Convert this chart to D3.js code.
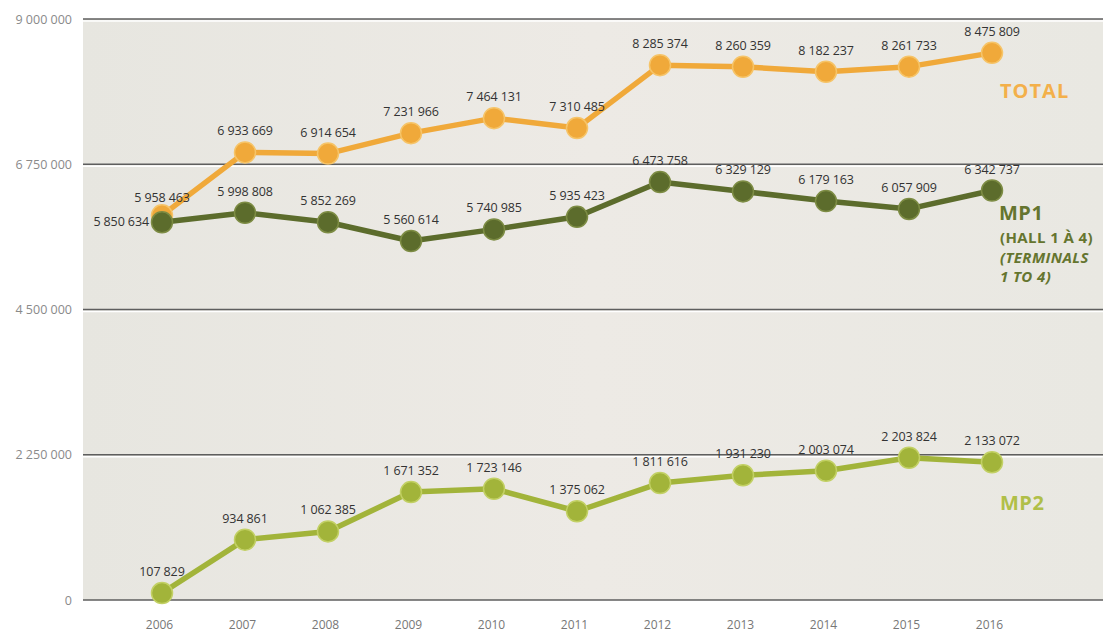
<!DOCTYPE html>
<html>
<head>
<meta charset="utf-8">
<script src="https://cdn.jsdelivr.net/npm/d3@7"></script>
<style>
  body { margin: 0; background: #ffffff; }
  svg { display: block; font-family: "Open Sans", "Noto Sans", sans-serif; }
</style>
</head>
<body>
<svg id="chart" width="1103" height="637"></svg>
<script>
const years = [2006, 2007, 2008, 2009, 2010, 2011, 2012, 2013, 2014, 2015, 2016];
const totalValues = [5958463, 6933669, 6914654, 7231966, 7464131, 7310485, 8285374, 8260359, 8182237, 8261733, 8475809];
const mp1Values = [5850634, 5998808, 5852269, 5560614, 5740985, 5935423, 6473758, 6329129, 6179163, 6057909, 6342737];
const mp2Values = [107829, 934861, 1062385, 1671352, 1723146, 1375062, 1811616, 1931230, 2003074, 2203824, 2133072];
const yTicks = [0, 2250000, 4500000, 6750000, 9000000];
const seriesNames = ["TOTAL", "MP1", "MP2"];
const mp1SubLabels = ["(HALL 1 À 4)", "(TERMINALS", "1 TO 4)"];

const fmt = v => d3.format(",")(v).replace(/,/g, " ");

const svg = d3.select("#chart");
const pLeft = 83, pRight = 1103, pTop = 19, pBottom = 600;

const x = d3.scaleLinear().domain([2006, 2016]).range([162, 992]);
const y = d3.scaleLinear().domain([0, 9000000]).range([pBottom, pTop]);

// plot background
const grad = svg.append("defs").append("linearGradient").attr("id", "bg").attr("x1", 0).attr("x2", 1).attr("y1", 0).attr("y2", 0);
grad.append("stop").attr("offset", "0%").attr("stop-color", "#e7e6e0");
grad.append("stop").attr("offset", "50%").attr("stop-color", "#edeae5");
grad.append("stop").attr("offset", "100%").attr("stop-color", "#e9e8e2");
svg.append("rect").attr("x", pLeft).attr("y", pTop).attr("width", pRight - pLeft).attr("height", pBottom - pTop).attr("fill", "url(#bg)");

// grid lines with white emboss
const grid = svg.append("g");
grid.selectAll("line.w").data(yTicks).join("line").attr("class", "w")
  .attr("x1", pLeft).attr("x2", pRight)
  .attr("y1", d => y(d) + 2).attr("y2", d => y(d) + 2)
  .attr("stroke", "#ffffff").attr("stroke-width", 1.5);
grid.selectAll("line.g").data(yTicks).join("line").attr("class", "g")
  .attr("x1", pLeft).attr("x2", pRight)
  .attr("y1", d => y(d)).attr("y2", d => y(d))
  .attr("stroke", "#5e5e5e").attr("stroke-width", 1.3);

// y axis labels
const yAxis = d3.axisLeft(y).tickValues(yTicks).tickSize(0).tickPadding(0).tickFormat(fmt);
const ya = svg.append("g").attr("transform", "translate(72,0)").call(yAxis);
ya.select(".domain").remove();
ya.selectAll("text").attr("font-size", 12.5).attr("fill", "#8a8a8a").attr("font-family", "\"Open Sans\", sans-serif").attr("letter-spacing", 0);

// x axis labels
const xAxis = d3.axisBottom(x).tickValues(years).tickSize(0).tickPadding(0).tickFormat(d3.format("d"));
const xa = svg.append("g").attr("transform", "translate(-3,620)").call(xAxis);
xa.select(".domain").remove();
xa.selectAll("text").attr("font-size", 12).attr("fill", "#777").attr("font-family", "\"Open Sans\", sans-serif").attr("letter-spacing", 0);

const line = d3.line().x((d, i) => x(years[i])).y(d => y(d));

const series = [
  { name: "TOTAL", values: totalValues, color: "#f0a93a", stroke: "#f6c468" },
  { name: "MP2", values: mp2Values, color: "#a2b43a", stroke: "#c2d064" },
  { name: "MP1", values: mp1Values, color: "#5c6c2c", stroke: "#7d8c44" }
];

series.forEach(s => {
  const g = svg.append("g");
  g.append("path").datum(s.values).attr("d", line)
    .attr("fill", "none").attr("stroke", s.color).attr("stroke-width", 5.5).attr("stroke-linejoin", "round");
  g.selectAll("circle").data(s.values).join("circle")
    .attr("cx", (d, i) => x(years[i])).attr("cy", d => y(d)).attr("r", 10.5)
    .attr("fill", s.color).attr("stroke", s.stroke).attr("stroke-width", 1.5);
});

// value labels
function addLabels(s, special) {
  svg.append("g").selectAll("text").data(s.values).join("text")
    .attr("x", (d, i) => special[i] ? x(years[i]) + special[i].dx : x(years[i]))
    .attr("y", (d, i) => special[i] ? y(d) + special[i].dy : y(d) - 17)
    .attr("text-anchor", (d, i) => special[i] && special[i].anchor ? special[i].anchor : "middle")
    .attr("font-size", 12.5).attr("fill", "#333").attr("letter-spacing", -0.1)
    .text(d => fmt(d));
}
addLabels(series[0], { 0: { dx: 0, dy: -13 } });
addLabels(series[2], { 0: { dx: -13, dy: 4, anchor: "end" } });
addLabels(series[1], {});

// series name labels
svg.append("text").attr("x", 1000).attr("y", 98).attr("font-size", 20).attr("font-weight", 700)
  .attr("fill", "#f3b04a").attr("letter-spacing", 1).text(seriesNames[0]);
svg.append("text").attr("x", 999).attr("y", 220).attr("font-size", 20).attr("font-weight", 700)
  .attr("fill", "#65752f").attr("letter-spacing", 0.5).text(seriesNames[1]);
mp1SubLabels.forEach((t, i) => {
  svg.append("text").attr("x", 1000).attr("y", 243 + i * 19.5).attr("font-size", 15).attr("font-weight", 700)
    .attr("font-style", i === 0 ? "normal" : "italic").attr("letter-spacing", 0.4)
    .attr("fill", "#65752f").text(t);
});
svg.append("text").attr("x", 1000).attr("y", 510).attr("font-size", 20).attr("font-weight", 700)
  .attr("fill", "#b0bf48").attr("letter-spacing", 0.5).text(seriesNames[2]);
</script>
</body>
</html>
